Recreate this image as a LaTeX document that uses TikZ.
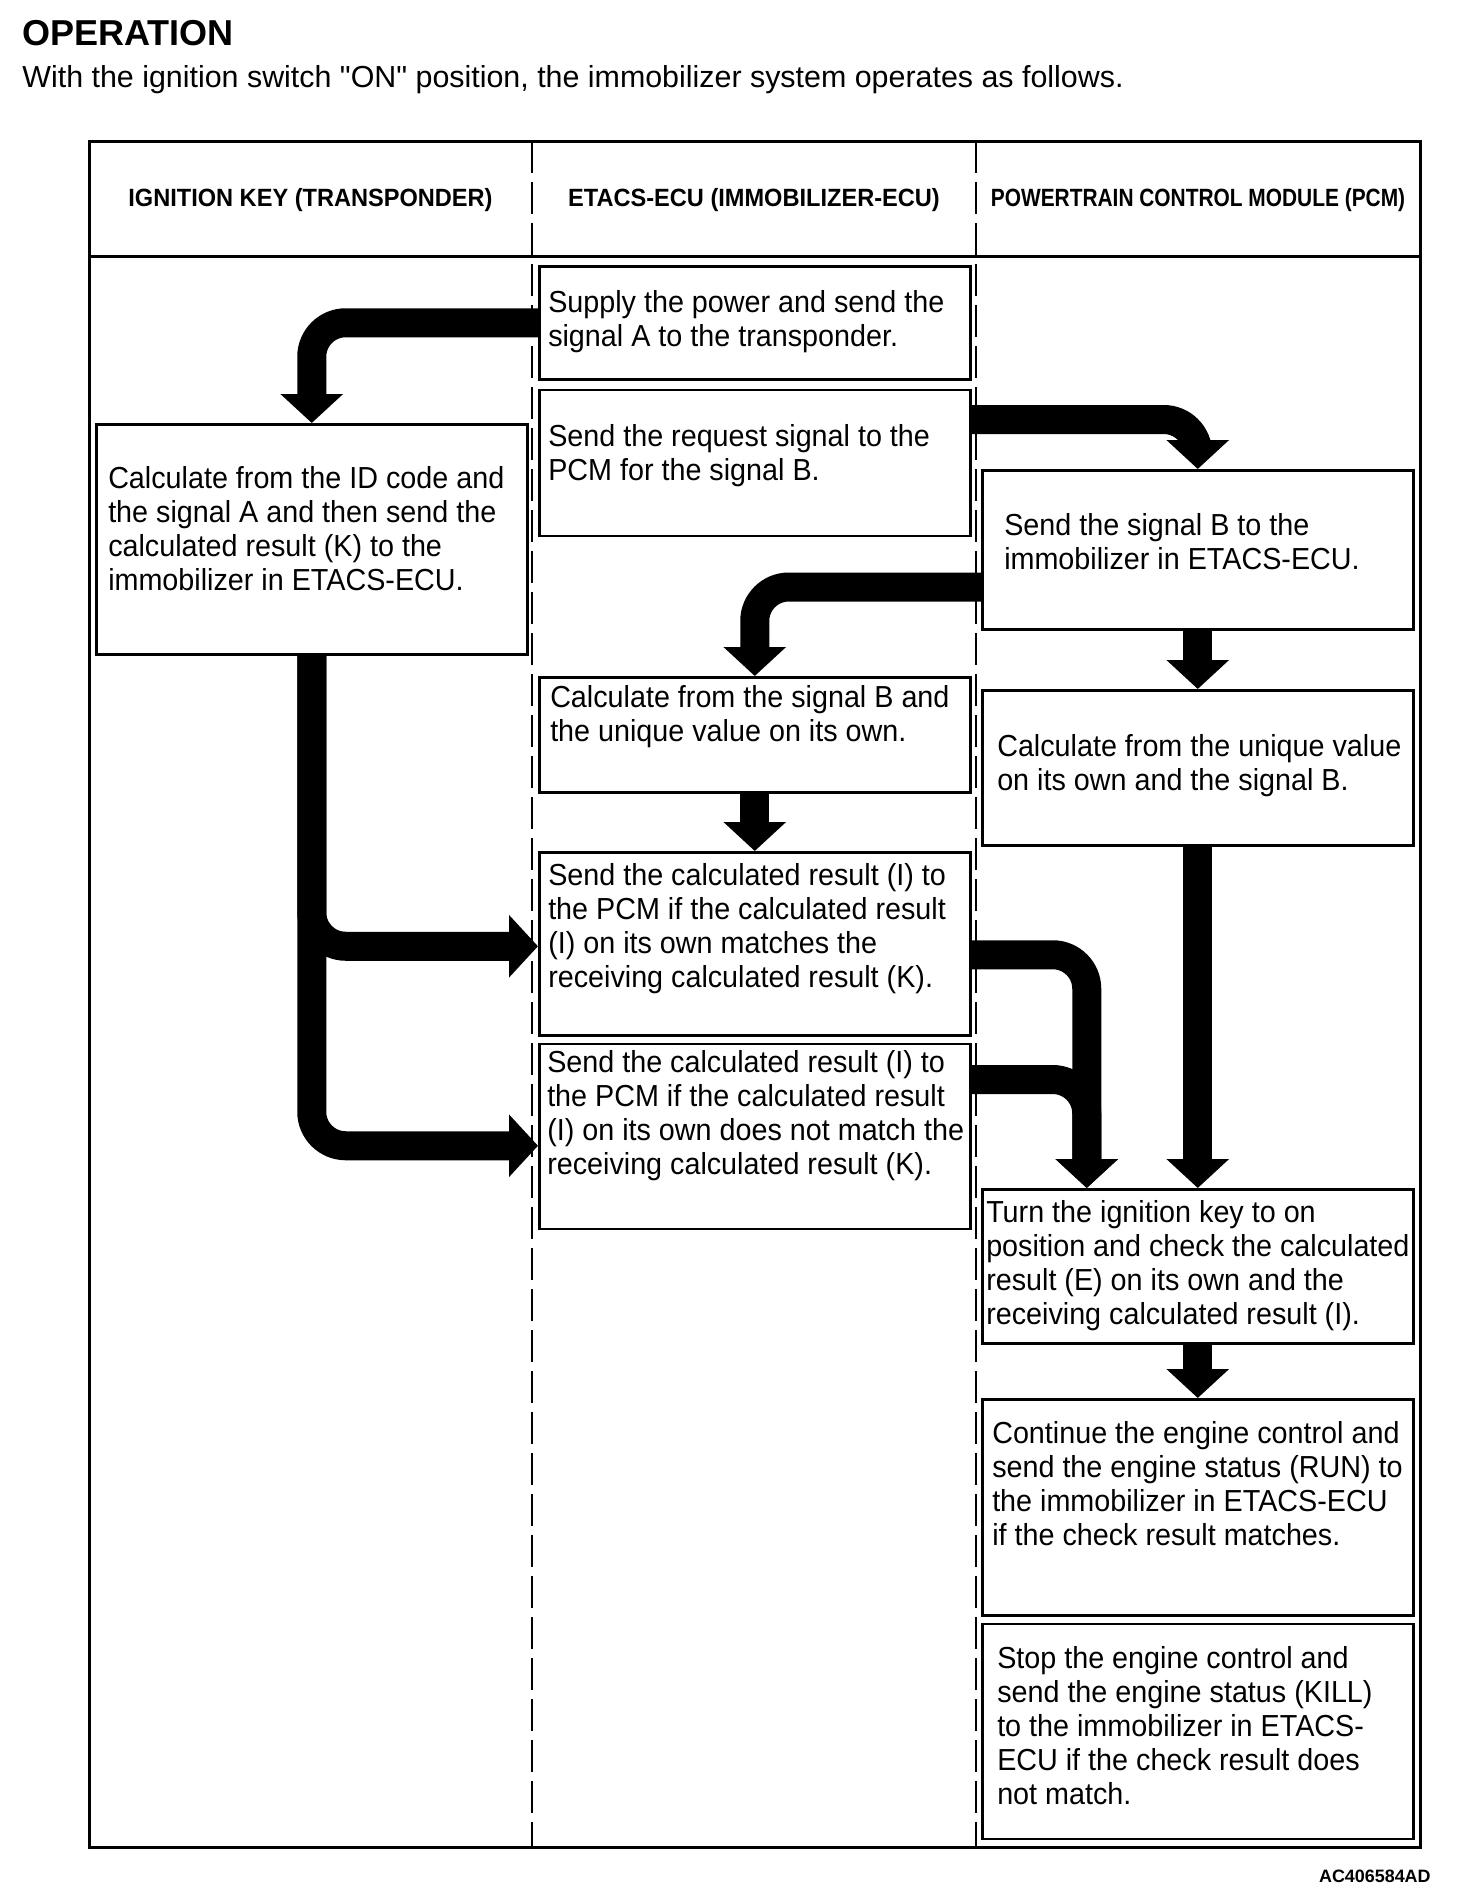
\documentclass[tikz,border=0pt]{standalone}
\usepackage{fontspec}
\usepackage{graphicx}
\setmainfont{Liberation Sans}[Ligatures=TeXOff]
\newfontfamily\narrowfont{Liberation Sans}[FakeStretch=0.945]
\usetikzlibrary{arrows.meta,positioning,calc}

\newcommand{\boxfont}{\narrowfont\fontsize{17.3pt}{19.35pt}\selectfont}
\newcommand{\headfont}{\narrowfont\bfseries\fontsize{14.2pt}{17pt}\selectfont}
\newcommand{\titlefont}{\bfseries\fontsize{20.5pt}{24pt}\selectfont}
\newcommand{\introfont}{\fontsize{17.3pt}{20pt}\selectfont}
\newcommand{\codefont}{\bfseries\fontsize{10.2pt}{12pt}\selectfont}

\begin{document}
\begin{tikzpicture}[
    x=0.2mm, y=-0.2mm,
    box/.style={draw, line width=0.5mm, anchor=north west, text width=86.6mm,
        inner xsep=-0.2mm, inner ysep=0pt, align=left, font=\boxfont},
    lpad/.style={execute at begin node={\leftskip=#1\relax\spaceskip=0pt\xspaceskip=0pt}},
    arrow/.style={line width=5.8mm, rounded corners=6.8mm,
        -{Triangle[width=12.2mm, length=5.8mm]}},
    divider/.style={line width=0.3mm, dash pattern=on 6.4mm off 1.8mm},
    head/.style={font=\headfont, inner sep=0pt}
]
\useasboundingbox (0,0) rectangle (1472,1904);

% Title
\node[anchor=base west, inner sep=0pt, font=\titlefont] (title) at (22,45) {OPERATION};
\node[anchor=base west, inner sep=0pt, font=\introfont] (intro) at (22,87)
    {With the ignition switch "ON" position, the immobilizer system operates as follows.};

% Frame and columns
\draw[line width=0.6mm] (89,141) rectangle (1420,1847);
\draw[line width=0.6mm] (89,256) -- (1420,256);
\draw[divider] (532,141) -- (532,1847);
\draw[divider] (976,141) -- (976,1847);

% Column headers
\node[head] (hkey) at (310.5,200) {IGNITION KEY (TRANSPONDER)};
\node[head] (hecu) at (754,200) {ETACS-ECU (IMMOBILIZER-ECU)};
\node[head] (hpcm) at (1198,200) {\scalebox{0.886}[1]{POWERTRAIN CONTROL MODULE (PCM)}};

% ETACS-ECU
\node[box, lpad=2mm, text height=9.2mm, text depth=13.4mm] (a1) at (538,265)
    {Supply the power and send the\\ signal A to the transponder.};
\node[box, lpad=2mm, text height=11.4mm, text depth=17.8mm, below=1.6mm of a1] (a2)
    {Send the request signal to the\\ PCM for the signal B.};
\node[box, lpad=2.4mm, text height=6mm, text depth=17mm] (a3) at (538,676)
    {Calculate from the signal B and\\ the unique value on its own.};
\node[box, lpad=2mm, text height=6.6mm, text depth=30mm] (a4) at (538,851)
    {Send the calculated result (I) to\\ the PCM if the calculated result\\
     (I) on its own matches the\\ receiving calculated result (K).};
\node[box, lpad=1.8mm, text height=5.8mm, text depth=31.2mm, below=1.2mm of a4] (a5)
    {Send the calculated result (I) to\\ the PCM if the calculated result\\
     (I) on its own does not match the\\ receiving calculated result (K).};

% Ignition key
\node[box, lpad=2.6mm, text height=12.8mm, text depth=33.2mm] (k1) at (95,423)
    {Calculate from the ID code and\\ the signal A and then send the\\
     calculated result (K) to the\\ immobilizer in ETACS-ECU.};

% PCM
\node[box, lpad=4.6mm, text height=13mm, text depth=18.8mm] (p1) at (981,469)
    {Send the signal B to the\\ immobilizer in ETACS-ECU.};
\node[box, lpad=3.2mm, text height=13.2mm, text depth=17.8mm] (p2) at (981,689)
    {Calculate from the unique value\\ on its own and the signal B.};
\node[box, lpad=1mm, text height=6.6mm, text depth=24.2mm] (p3) at (981,1188)
    {Turn the ignition key to on\\ position and check the calculated\\
     result (E) on its own and the\\ receiving calculated result (I).};
\node[box, lpad=2.2mm, text height=8.8mm, text depth=34.4mm] (p4) at (981,1398)
    {Continue the engine control and\\ send the engine status (RUN) to\\
     the immobilizer in ETACS-ECU\\ if the check result matches.};
\node[box, lpad=3.2mm, text height=9mm, text depth=34mm, below=1.2mm of p4] (p5)
    {Stop the engine control and\\ send the engine status (KILL)\\
     to the immobilizer in ETACS-\\ ECU if the check result does\\ not match.};

% Arrows
\coordinate (join) at ([xshift=-22.2mm]p3.north);
\draw[arrow] (a1.west) -| (k1.north);
\draw[arrow] ([yshift=-6.2mm]a2.north east) -| (p1.north);
\draw[arrow] ([yshift=-23.6mm]p1.north west) -| (a3.north);
\draw[arrow] (p1) -- (p2);
\draw[arrow] (a3) -- (a4);
\draw[arrow] (k1.south) |- ([yshift=-0.5mm]a4.west);
\draw[arrow] (k1.south) |- ([yshift=-1.9mm]a5.west);
\draw[arrow] ([yshift=-2.2mm]a4.east) -| (join);
\draw[arrow] ([yshift=-7.4mm]a5.north east) -| (join);
\draw[arrow] (p2) -- (p3);
\draw[arrow] (p3) -- (p4);

% Figure code
\node[anchor=base east, inner sep=0pt, font=\codefont] (code) at (1431,1882) {AC406584AD};

\end{tikzpicture}
\end{document}
